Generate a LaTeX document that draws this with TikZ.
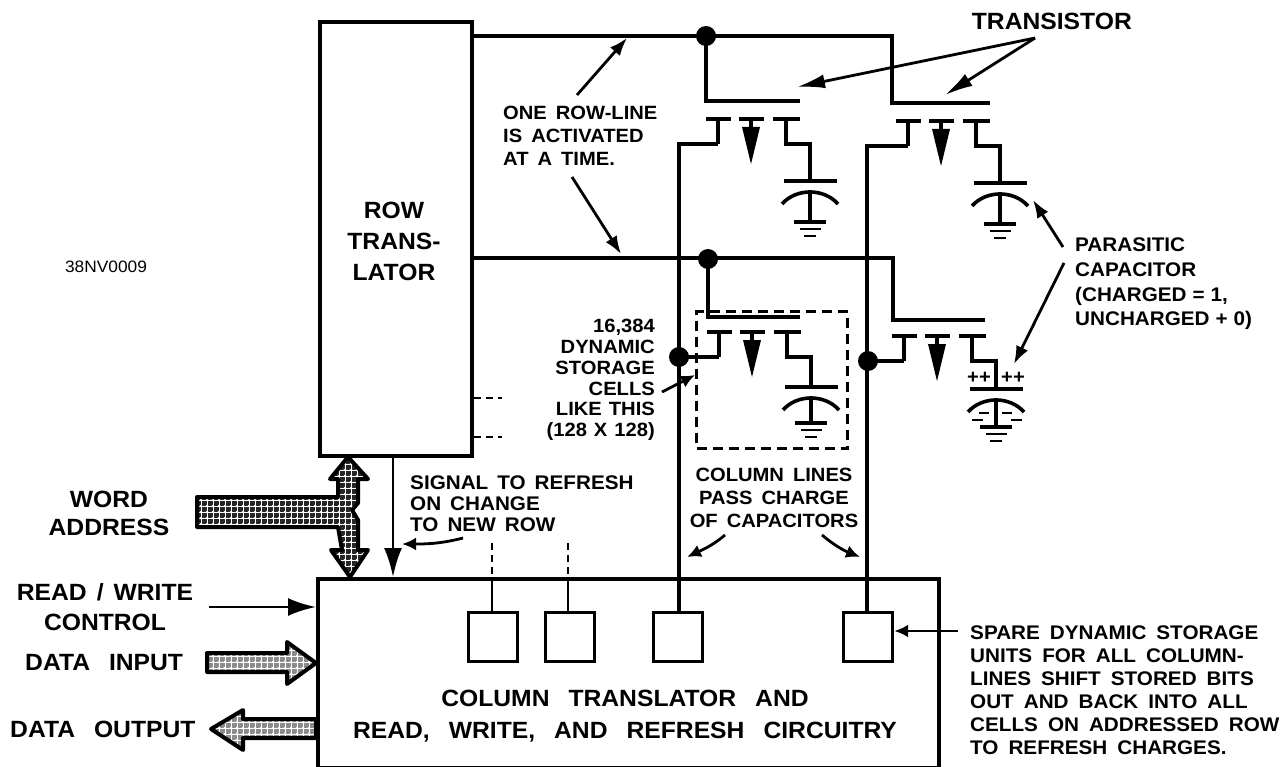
\documentclass[tikz,border=0pt]{standalone}
\usepackage{fontspec}
\setmainfont[FakeStretch=1.05]{Liberation Sans}
\usepackage{tikz}
\usetikzlibrary{arrows.meta,patterns,calc}

\pgfdeclarepatternformonly{gridnet}{\pgfqpoint{-1pt}{-1pt}}{\pgfqpoint{7pt}{7pt}}{\pgfqpoint{6pt}{6pt}}{%
  \pgfpathcircle{\pgfqpoint{3pt}{3pt}}{1.3pt}\pgfusepath{fill}%
  \pgfsetlinewidth{0.5pt}%
  \pgfpathmoveto{\pgfqpoint{0pt}{3pt}}\pgfpathlineto{\pgfqpoint{6pt}{3pt}}\pgfusepath{stroke}%
  \pgfpathmoveto{\pgfqpoint{3pt}{0pt}}\pgfpathlineto{\pgfqpoint{3pt}{6pt}}\pgfusepath{stroke}%
}

\newcommand{\lblfont}[3]{\fontsize{#1}{#2}\selectfont\bfseries\spaceskip=#3pt\relax}

\newcommand{\mosgate}[5]{%
  \coordinate (#1src) at (#2+12,#3+25);
  \draw[wire] (#2,#3) -- (#2+25,#3);
  \draw[wire] (#2+12,#3) -- (#1src);
  \draw[wire] (#2+33,#3) -- (#2+58,#3);
  \draw[wire] (#2+45,#3) -- (#2+45,#3+8);
  \fill (#2+36,#3+8) -- (#2+54,#3+8) -- (#2+45,#3+45) -- cycle;
  \draw[wire] (#2+67,#3) -- (#2+94,#3);
  \draw[wire] (#2+80,#3) |- (#2+104,#3+25) -- (#2+104,#4);
  \draw[wire] (#2+78,#4) -- (#2+131,#4);
  \draw[wire] (#2+104,#4+9) -- (#2+104,#5);
  \draw[wire] (#2+76,#4+23) .. controls (#2+90,#4+7) and (#2+118,#4+7) .. (#2+132,#4+23);
  \draw[wire] (#2+88,#5) -- (#2+120,#5);
  \draw[thinwire] (#2+94,#5+7) -- (#2+115,#5+7);
  \draw[thinwire] (#2+98,#5+14) -- (#2+110,#5+14);
}

\begin{document}
\begin{tikzpicture}[x=1pt,y=-1pt,>=Latex,
  wire/.style={line width=3.6pt},
  thinwire/.style={line width=2.8pt},
  lbl/.style={font=\lblfont{19.2}{23}{9},inner sep=0pt,align=left},
  box/.style={draw,line width=4pt,inner sep=0pt,anchor=north west},
  unitbox/.style={box,line width=3.2pt,minimum width=49pt,minimum height=49pt},
  note/.style={line width=2.8pt,-{Latex[length=18pt,width=13pt]}},
  longnote/.style={line width=2.8pt,-{Latex[length=28pt,width=14pt]}},
  shortnote/.style={line width=2.8pt,-{Latex[length=14pt,width=13pt]}},
  fatarrow/.style={draw,line width=4pt,line join=round,preaction={fill=black!#1},pattern=gridnet,pattern color=white}
]
  \useasboundingbox (0,0) rectangle (1287,767);

  \node[box,minimum width=152pt,minimum height=434pt] (rowbox) at (318,20) {};
  \node[box,minimum width=621pt,minimum height=189pt] (colbox) at (316,577) {};
  \node[unitbox] (unita) at (467,611) {};
  \node[unitbox] (unitb) at (544,611) {};
  \node[unitbox] (unitc) at (652,611) {};
  \node[unitbox] (unitd) at (842,611) {};

  \mosgate{ca}{706}{119}{181}{222}
  \mosgate{cb}{896}{121}{183}{224}
  \mosgate{cc}{707}{332}{387}{423}
  \mosgate{cd}{892}{336}{389}{427}

  \coordinate (rowa) at (470,36);
  \coordinate (rowb) at (470,258);
  \coordinate (dota) at (706,36);
  \coordinate (dotb) at (708,259);
  \coordinate (dotc) at (679,357);
  \coordinate (dotd) at (868,361);

  \draw[wire] (rowa) -- (892,36) -- (892,103) -- (990,103);
  \draw[wire] (dota) -- (706,101) -- (800,101);
  \draw[wire] (rowb) -- (893,258) -- (893,320) -- (985,320);
  \draw[wire] (dotb) -- (708,317) -- (800,317);
  \draw[wire] (casrc) -- (679,144) -- (unitc.north -| 679,0);
  \draw[wire] (cbsrc) -- (867,146) -- (unitd.north -| 867,0);
  \draw[wire] (ccsrc) -- (dotc);
  \draw[wire] (cdsrc) -- (dotd);
  \fill (dota) circle (10pt);
  \fill (dotb) circle (10pt);
  \fill (dotc) circle (10pt);
  \fill (dotd) circle (10pt);

  \node[draw,line width=3pt,dash pattern=on 10pt off 6pt,minimum width=151pt,minimum height=137pt,inner sep=0pt,anchor=north west] (cellbox) at (695,310) {};

  \draw[thinwire,dash pattern=on 7pt off 5pt] (rowbox.east |- 0,398) -- (502,398);
  \draw[thinwire,dash pattern=on 7pt off 5pt] (rowbox.east |- 0,437) -- (502,437);
  \draw[thinwire,dash pattern=on 7pt off 5pt] (492,543) -- (492,577);
  \draw[thinwire] (492,577) -- (unita.north -| 492,0);
  \draw[thinwire,dash pattern=on 7pt off 5pt] (568,543) -- (568,577);
  \draw[thinwire] (568,577) -- (unitb.north -| 568,0);

  \node[font=\lblfont{19.2}{18}{5},inner sep=0pt] (plusa) at (979,378) {++};
  \node[font=\lblfont{19.2}{18}{5},inner sep=0pt] (plusb) at (1013,378) {++};
  \draw[thinwire] (979,413) -- (989,413) (1002,413) -- (1012,413);
  \draw[thinwire] (972,420) -- (983,420) (1011,420) -- (1022,420);

  \node[lbl,font=\fontsize{16.5}{17}\selectfont] (partno) at (106,267) {38NV0009};
  \node[lbl,align=center,font=\lblfont{23.5}{31}{6}] (rowlabel) at (394,241) {ROW\\TRANS-\\LATOR};
  \node[lbl,anchor=west] (onerow) at (503,136) {ONE ROW-LINE\\IS ACTIVATED\\AT A TIME.};
  \node[lbl,anchor=east,font=\lblfont{23.5}{26}{6}] (transistor) at (1132,21) {TRANSISTOR};
  \node[lbl,anchor=west,font=\lblfont{19.7}{24.7}{6}] (parasitic) at (1075,284) {PARASITIC\\CAPACITOR\\(CHARGED = 1,\\UNCHARGED + 0)};
  \node[lbl,align=right,anchor=east,font=\lblfont{19.2}{20.8}{7}] (cells) at (655,380) {16,384\\DYNAMIC\\STORAGE\\CELLS\\LIKE THIS\\(128 X 128)};
  \node[lbl,align=center] (collines) at (774,498) {COLUMN LINES\\PASS CHARGE\\OF CAPACITORS};
  \node[lbl,anchor=west,font=\lblfont{19.7}{21}{9}] (signal) at (410,504) {SIGNAL TO REFRESH\\ON CHANGE\\TO NEW ROW};
  \node[lbl,align=center,font=\lblfont{23.5}{28}{8}] (wordaddr) at (109,513) {WORD\\ADDRESS};
  \node[lbl,align=center,font=\lblfont{23.5}{30}{10}] (rwctrl) at (105,607) {READ / WRITE\\CONTROL};
  \node[lbl,anchor=west,font=\lblfont{23.5}{24}{19}] (datain) at (25,663) {DATA INPUT};
  \node[lbl,anchor=west,font=\lblfont{23.5}{24}{19}] (dataout) at (10,729) {DATA OUTPUT};
  \node[lbl,align=center,font=\lblfont{23.5}{32}{19}] (coltitle) at (625,716) {COLUMN TRANSLATOR AND\\READ, WRITE, AND REFRESH CIRCUITRY};
  \node[lbl,anchor=west,font=\lblfont{19.7}{23}{10}] (spare) at (970,690.5) {SPARE DYNAMIC STORAGE\\UNITS FOR ALL COLUMN-\\LINES SHIFT STORED BITS\\OUT AND BACK INTO ALL\\CELLS ON ADDRESSED ROW\\TO REFRESH CHARGES.};

  \coordinate (rowtipa) at (627,38);
  \coordinate (rowtipb) at (621,254);
  \coordinate (gatetail) at (1035,38);
  \coordinate (gatetipa) at (797,87);
  \coordinate (gatetipb) at (945,95);
  \coordinate (captipa) at (1033,200);
  \coordinate (captipb) at (1014,364);
  \coordinate (parasitup) at (1063,247);
  \coordinate (parasitlow) at (1064,263);
  \coordinate (celltip) at (695,375);
  \coordinate (signaltip) at (402,544);
  \coordinate (rwstart) at (209,607);

  \draw[note] (577,95) -- (rowtipa);
  \draw[note] (572,177) -- (rowtipb);
  \draw[longnote] (gatetail) -- (gatetipa);
  \draw[longnote] (gatetail) -- (gatetipb);
  \draw[note] (parasitup) -- (captipa);
  \draw[note] (parasitlow) -- (captipb);
  \draw[shortnote] (662,392) -- (celltip);
  \draw[shortnote] (725,535) .. controls (712,546) and (702,550) .. (687,557);
  \draw[shortnote] (822,535) .. controls (835,546) and (845,551) .. (860,557);
  \draw[shortnote] (463,538) .. controls (440,544) and (425,544) .. (signaltip);
  \draw[line width=2.8pt,-{Latex[length=29pt,width=18pt]}] (rowbox.south -| 393,0) -- (colbox.north -| 393,0);
  \draw[line width=2.8pt,-{Latex[length=28pt,width=18pt]}] (rwstart) -- (colbox.west |- rwstart);
  \draw[shortnote] (958,631) -- (unitd.east |- 0,631);

  \path[fatarrow=85] (348,457) -- (368,479) -- (358,479) -- (358,503) -- (352,510) -- (358,520) -- (358,550) -- (368,550) -- (350,577) -- (331,550) -- (342,550) -- (338,527) -- (197,527) -- (197,497) -- (338,497) -- (338,479) -- (330,479) -- cycle;
  \path[fatarrow=45] (207,653) -- (287,653) -- (287,642) -- (316,663) -- (287,684) -- (287,672) -- (207,672) -- cycle;
  \path[fatarrow=45] (316,719) -- (243,719) -- (243,710) -- (211,729) -- (243,750) -- (243,738) -- (316,738) -- cycle;
\end{tikzpicture}
\end{document}
